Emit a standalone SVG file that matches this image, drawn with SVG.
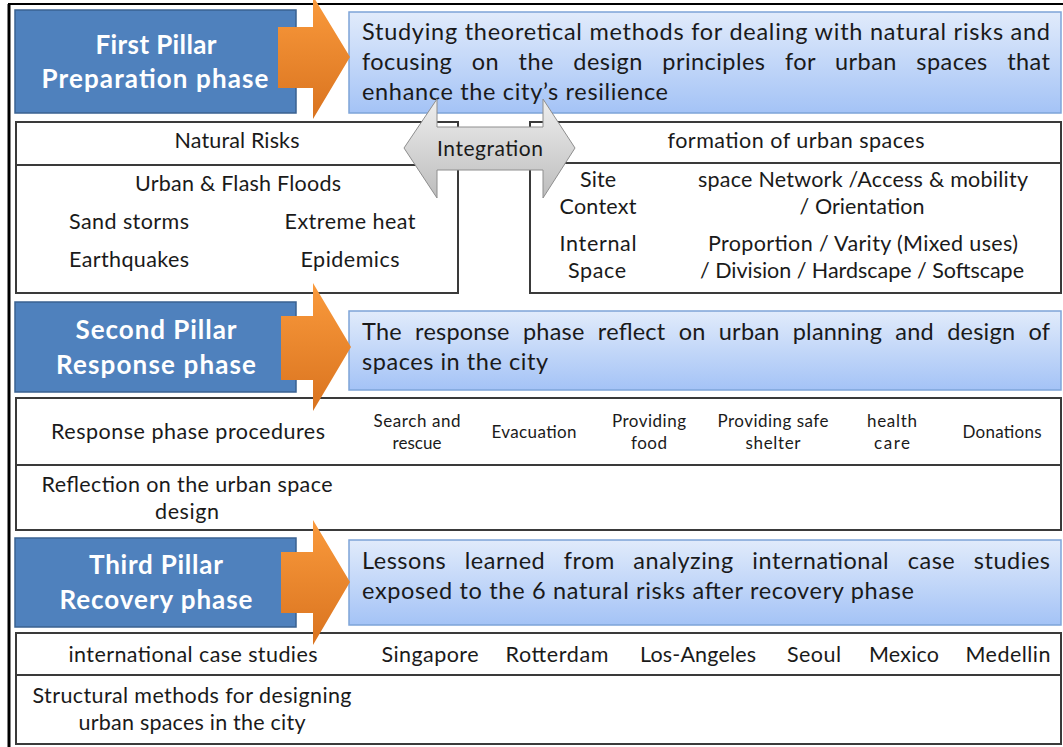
<svg xmlns="http://www.w3.org/2000/svg" width="1063" height="747" viewBox="0 0 1063 747">
<defs>
<linearGradient id="descG" x1="0" y1="0" x2="0" y2="1"><stop offset="0" stop-color="#E1EBFB"/><stop offset="1" stop-color="#A4C3F6"/></linearGradient>
<linearGradient id="orG" x1="0" y1="0" x2="0" y2="1"><stop offset="0" stop-color="#FA9A3C"/><stop offset="1" stop-color="#D9731F"/></linearGradient>
<linearGradient id="grG" x1="0" y1="0" x2="0" y2="1"><stop offset="0" stop-color="#EEEEEE"/><stop offset="1" stop-color="#BDBDBD"/></linearGradient>
<style>
.pillar{fill:#4F81BD;stroke:#3A6291;stroke-width:1.5}
.pt{font-family:Lato,"Liberation Sans",sans-serif;font-weight:bold;font-size:26px;fill:#fff;text-anchor:middle}
.desc{fill:url(#descG);stroke:#7EA4D8;stroke-width:1.5}
.dt{font-family:Lato,"Liberation Sans",sans-serif;font-size:23.5px;fill:#1a1a1a}
.tbl{fill:#fff;stroke:#3a3a3a;stroke-width:2}
.ln{stroke:#3a3a3a;stroke-width:2}
.tt{font-family:Lato,"Liberation Sans",sans-serif;font-size:21.5px;fill:#1a1a1a;text-anchor:middle}
.ts{font-family:Lato,"Liberation Sans",sans-serif;font-size:17px;fill:#1a1a1a;text-anchor:middle}
.orange{fill:url(#orG)}
.grey{fill:url(#grG);stroke:#8E8E8E;stroke-width:1}
</style>
</defs>
<rect width="1063" height="747" fill="#fff"/>
<g id="frame"><line x1="9" y1="4" x2="9" y2="747" stroke="#000" stroke-width="3"/><line x1="8" y1="4" x2="1063" y2="4" stroke="#000" stroke-width="2"/></g>

<g id="table-natural-risks">
<rect class="tbl" x="16" y="122" width="442" height="171"/>
<line class="ln" x1="16" y1="165" x2="458" y2="165"/>
<text class="tt" x="237" y="148" textLength="125">Natural Risks</text>
<text class="tt" x="238" y="191" textLength="206">Urban &amp; Flash Floods</text>
<text class="tt" x="129" y="229" textLength="120">Sand storms</text>
<text class="tt" x="350" y="229" textLength="131">Extreme heat</text>
<text class="tt" x="129" y="267" textLength="120">Earthquakes</text>
<text class="tt" x="350" y="267" textLength="99">Epidemics</text>
</g>
<g id="table-urban-spaces">
<rect class="tbl" x="530" y="122" width="531" height="171"/>
<line class="ln" x1="530" y1="163" x2="1061" y2="163"/>
<text class="tt" x="796" y="148" textLength="257">formation of urban spaces</text>
<text class="tt" x="598" y="187" textLength="36">Site</text>
<text class="tt" x="598" y="214" textLength="77">Context</text>
<text class="tt" x="863" y="187" textLength="330">space Network /Access &amp; mobility</text>
<text class="tt" x="862" y="214" textLength="125">/ Orientation</text>
<text class="tt" x="598" y="251" textLength="77">Internal</text>
<text class="tt" x="597" y="278" textLength="58">Space</text>
<text class="tt" x="863" y="251" textLength="310">Proportion / Varity (Mixed uses)</text>
<text class="tt" x="862" y="278" textLength="324">/ Division / Hardscape / Softscape</text>
</g>
<g id="table-response">
<rect class="tbl" x="16" y="398" width="1045" height="132"/>
<line class="ln" x1="16" y1="465" x2="1061" y2="465"/>
<text class="tt" x="188" y="439" textLength="274">Response phase procedures</text>
<text class="ts" x="417" y="427" textLength="87">Search and</text>
<text class="ts" x="417" y="449" textLength="49">rescue</text>
<text class="ts" x="534" y="438" textLength="85">Evacuation</text>
<text class="ts" x="649" y="427" textLength="74">Providing</text>
<text class="ts" x="649" y="449" textLength="36">food</text>
<text class="ts" x="773" y="427" textLength="111">Providing safe</text>
<text class="ts" x="773" y="449" textLength="55">shelter</text>
<text class="ts" x="892" y="427" textLength="50">health</text>
<text class="ts" x="892" y="449" textLength="36">care</text>
<text class="ts" x="1002" y="438" textLength="79">Donations</text>
<text class="tt" x="187" y="492" textLength="291">Reflection on the urban space</text>
<text class="tt" x="187" y="519" textLength="64">design</text>
</g>
<g id="table-recovery">
<rect class="tbl" x="16" y="633" width="1045" height="111"/>
<line class="ln" x1="16" y1="675" x2="1061" y2="675"/>
<text class="tt" x="193" y="662" textLength="249">international case studies</text>
<text class="tt" x="430" y="662" textLength="97">Singapore</text>
<text class="tt" x="557" y="662" textLength="103">Rotterdam</text>
<text class="tt" x="698" y="662" textLength="116">Los-Angeles</text>
<text class="tt" x="814" y="662" textLength="54">Seoul</text>
<text class="tt" x="904" y="662" textLength="70">Mexico</text>
<text class="tt" x="1008" y="662" textLength="85">Medellin</text>
<text class="tt" x="192" y="703" textLength="319">Structural methods for designing</text>
<text class="tt" x="192" y="730" textLength="227">urban spaces in the city</text>
</g>

<g id="pillar-1">
<rect class="pillar" x="15" y="10" width="281" height="103"/>
<text class="pt" x="156" y="54" textLength="121">First Pillar</text>
<text class="pt" x="155" y="88" textLength="227">Preparation phase</text>
</g>
<g id="desc-1">
<rect class="desc" x="349" y="12" width="712" height="101"/>
<text class="dt" x="362" y="40" textLength="688" lengthAdjust="spacing">Studying theoretical methods for dealing with natural risks and</text>
<text class="dt" x="362" y="70" textLength="688" lengthAdjust="spacing" word-spacing="13">focusing on the design principles for urban spaces that</text>
<text class="dt" x="362" y="100" textLength="306">enhance the city’s resilience</text>
</g>
<g id="pillar-2">
<rect class="pillar" x="15" y="302" width="281" height="90"/>
<text class="pt" x="156" y="339" textLength="161">Second Pillar</text>
<text class="pt" x="156" y="374" textLength="200">Response phase</text>
</g>
<g id="desc-2">
<rect class="desc" x="349" y="311" width="712" height="79"/>
<text class="dt" x="362" y="340" textLength="688" lengthAdjust="spacing" word-spacing="7">The response phase reflect on urban planning and design of</text>
<text class="dt" x="362" y="370" textLength="186">spaces in the city</text>
</g>
<g id="pillar-3">
<rect class="pillar" x="15" y="538" width="281" height="89"/>
<text class="pt" x="156" y="574" textLength="134">Third Pillar</text>
<text class="pt" x="156" y="609" textLength="193">Recovery phase</text>
</g>
<g id="desc-3">
<rect class="desc" x="349" y="540" width="712" height="85"/>
<text class="dt" x="362" y="569" textLength="688" lengthAdjust="spacing" word-spacing="12">Lessons learned from analyzing international case studies</text>
<text class="dt" x="362" y="599" textLength="552">exposed to the 6 natural risks after recovery phase</text>
</g>

<g id="connectors">
<polygon class="orange" points="278,27 313,27 313,-4 350,57 313,119 313,88 278,88"/>
<polygon class="orange" points="281,316 313,316 313,283 351,347 313,411 313,380 281,380"/>
<polygon class="orange" points="281,552 313,552 313,520 350,582 313,645 313,613 281,613"/>
<g id="integration">
<polygon class="grey" points="404,148 437,99 437,127 543,127 543,99 575,148 543,198 543,170 437,170 437,198"/>
<text x="490" y="156" font-family="Lato,'Liberation Sans',sans-serif" font-size="21" fill="#1a1a1a" text-anchor="middle" textLength="106">Integration</text>
</g>
</g>
</svg>
